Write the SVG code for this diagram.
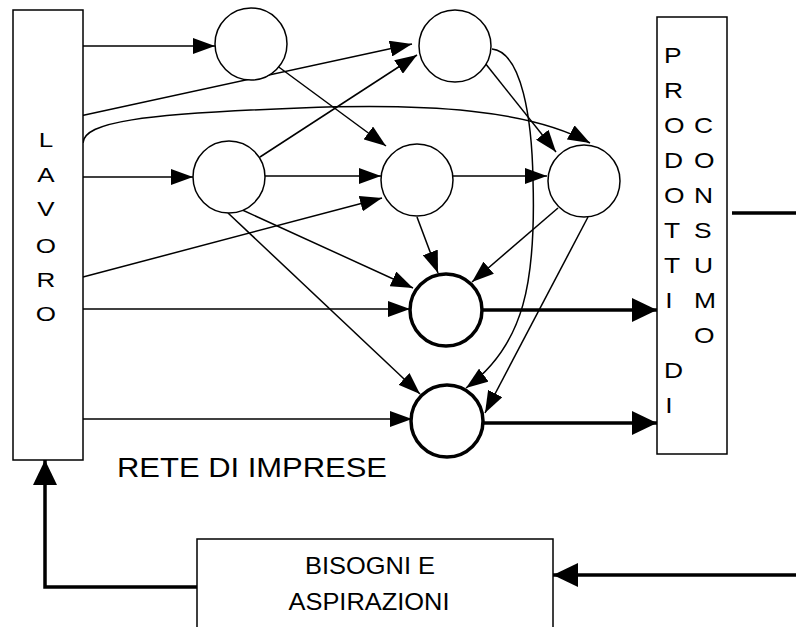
<svg xmlns="http://www.w3.org/2000/svg" width="796" height="627" viewBox="0 0 796 627">
<style>
.box{fill:#fff;stroke:#000;stroke-width:1.5}
.node{fill:#fff;stroke:#000;stroke-width:1.5}
.bold{fill:#fff;stroke:#000;stroke-width:3.5}
.e{fill:none;stroke:#000;stroke-width:1.5;marker-end:url(#ah)}
.t{fill:none;stroke:#000;stroke-width:3.5;marker-end:url(#ahb)}
.tn{fill:none;stroke:#000;stroke-width:3.5}
text{font-family:"Liberation Sans",Arial,sans-serif;fill:#000}
.lv{font-size:20px;text-anchor:middle}
.pc{font-size:22px}
.lb{font-size:24px;text-anchor:middle}
</style>
<defs>
<marker id="ah" markerUnits="userSpaceOnUse" markerWidth="22" markerHeight="16" refX="22" refY="8" orient="auto"><path d="M0,0 L22,8 L0,16 z" fill="#000"/></marker>
<marker id="ahb" markerUnits="userSpaceOnUse" markerWidth="25" markerHeight="24" refX="25" refY="12" orient="auto"><path d="M0,0 L25,12 L0,24 z" fill="#000"/></marker>
</defs>
<rect width="796" height="627" fill="#fff"/>
<g id="connectors">
<path class="e" d="M81,46 L215,46"/>
<path class="e" d="M80,116 L412,44"/>
<path class="e" d="M83,143 C84,122 140,114 300,108 C430,103 530,110 590,143"/>
<path class="e" d="M81,177 L193,177"/>
<path class="e" d="M83,277 L382,198"/>
<path class="e" d="M80,309 L410,309"/>
<path class="e" d="M80,419 L412,419"/>
<path class="e" d="M276,65 L386,146"/>
<path class="e" d="M262,176 L381,176"/>
<path class="e" d="M260,157 L417,55"/>
<path class="e" d="M238,208 L413,288"/>
<path class="e" d="M228,213 L420,394"/>
<path class="e" d="M452,176 L547,176"/>
<path class="e" d="M485,63 L556,152"/>
<path class="e" d="M492,49 C522,52 532,120 533,180 C536,280 525,345 466,388"/>
<path class="e" d="M588,217 L485,413"/>
<path class="e" d="M417,217 L438,273"/>
<path class="e" d="M558,208 L472,282"/>
<path class="t" d="M482,310 L657,310"/>
<path class="t" d="M483,423 L657,423"/>
<path class="tn" d="M732,213 L796,213"/>
<path class="t" d="M796,575 L553,575"/>
<path class="t" d="M197,587 L45,587 L45,460"/>
</g>
<g id="lavoro">
<rect class="box" x="13" y="10" width="70" height="450"/>
<g transform="translate(46,0) scale(1.3,1) translate(-46,0)">
<text class="lv" x="46" y="147">L</text>
<text class="lv" x="46" y="182">A</text>
<text class="lv" x="46" y="216">V</text>
<text class="lv" x="46" y="253">O</text>
<text class="lv" x="46" y="287">R</text>
<text class="lv" x="46" y="321">O</text>
</g>
</g>
<g id="n1"><circle class="node" cx="251" cy="44" r="36"/></g>
<g id="n2"><circle class="node" cx="229" cy="177" r="36"/></g>
<g id="n3"><circle class="node" cx="455" cy="46" r="36"/></g>
<g id="n4"><circle class="node" cx="417" cy="180" r="36"/></g>
<g id="n5"><circle class="node" cx="584" cy="181" r="36"/></g>
<g id="n6"><circle class="bold" cx="446" cy="310" r="36"/></g>
<g id="n7"><circle class="bold" cx="447" cy="421" r="36"/></g>
<g id="prodotti">
<rect class="box" x="657" y="17" width="70" height="437"/>
<g transform="translate(664,0) scale(1.2,1) translate(-664,0)">
<text class="pc" x="664" y="63">P</text>
<text class="pc" x="664" y="98">R</text>
<text class="pc" x="664" y="133">O</text>
<text class="pc" x="664" y="168">D</text>
<text class="pc" x="664" y="203">O</text>
<text class="pc" x="664" y="238">T</text>
<text class="pc" x="664" y="273">T</text>
<text class="pc" x="665" y="308">I</text>
<text class="pc" x="664" y="378">D</text>
<text class="pc" x="665" y="413">I</text>
</g>
<g transform="translate(694,0) scale(1.2,1) translate(-694,0)">
<text class="pc" x="694" y="133">C</text>
<text class="pc" x="694" y="168">O</text>
<text class="pc" x="694" y="203">N</text>
<text class="pc" x="694" y="238">S</text>
<text class="pc" x="694" y="273">U</text>
<text class="pc" x="694" y="308">M</text>
<text class="pc" x="694" y="343">O</text>
</g>
</g>
<g id="rete">
<text x="117" y="477" font-size="27" textLength="270" lengthAdjust="spacingAndGlyphs">RETE DI IMPRESE</text>
</g>
<g id="bisogni">
<rect class="box" x="197" y="539" width="356" height="100"/>
<text class="lb" x="370" y="574" textLength="130" lengthAdjust="spacingAndGlyphs">BISOGNI E</text>
<text class="lb" x="369" y="610" textLength="161" lengthAdjust="spacingAndGlyphs">ASPIRAZIONI</text>
</g>
</svg>
